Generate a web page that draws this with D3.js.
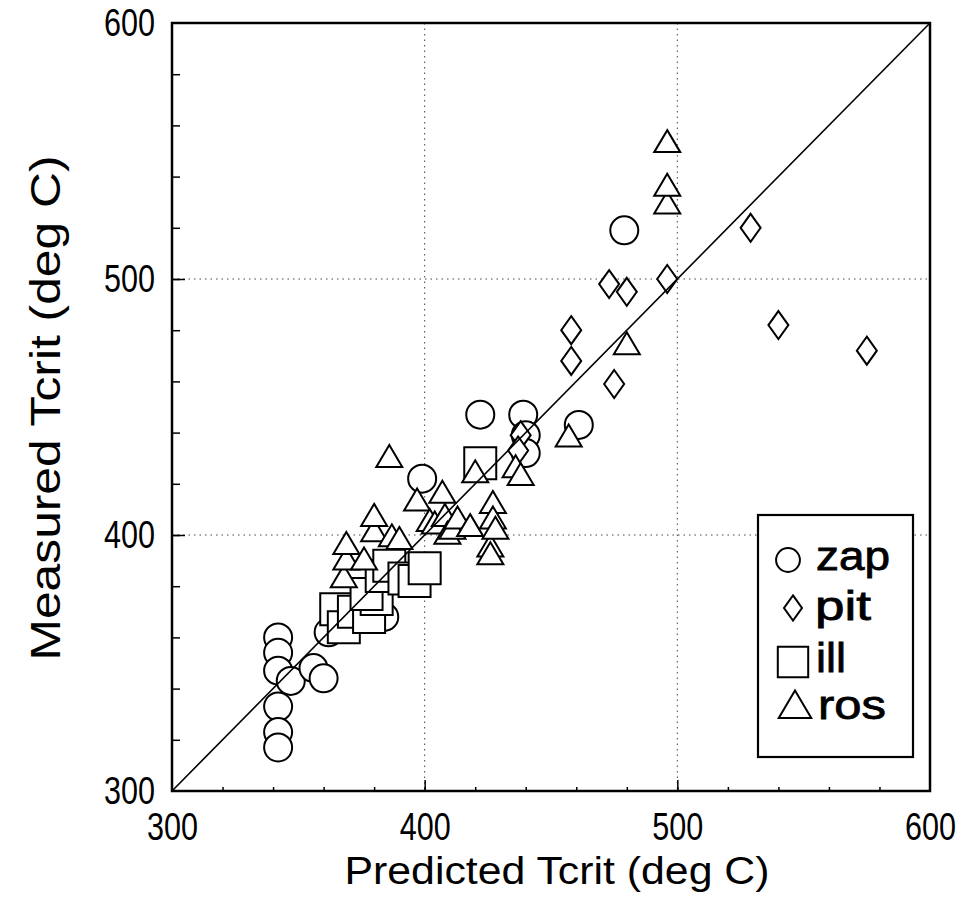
<!DOCTYPE html>
<html>
<head>
<meta charset="utf-8">
<script src="https://cdn.jsdelivr.net/npm/d3@7"></script>
<style>
  body { margin: 0; background: #fff; }
  svg { display: block; }
  text { font-family: "Liberation Sans", Arial, Helvetica, sans-serif; fill: #000; }
</style>
</head>
<body>
<svg id="chart" width="969" height="924"></svg>
<script>
// data: [predicted, measured] in deg C
var zap = [
  [342, 360], [342, 354], [342, 347], [342, 333], [342, 323], [342, 317],
  [347, 343], [356, 348], [360, 344], [362, 362], [384, 368],
  [399, 422], [422, 447], [439, 447], [440, 439], [440, 432],
  [461, 443], [479, 519]
];
var pit = [
  [438, 439], [437, 433], [458, 480], [458, 468], [475, 459],
  [473, 498], [480, 495], [496, 500], [529, 520], [540, 482], [575, 472]
];
var ill = [
  [365, 371], [368, 364], [372, 370], [378, 368], [381, 375], [377, 377],
  [383, 384], [386, 388], [392, 383], [396, 382], [400, 387], [422, 428]
];
var ros = [
  [368, 383], [369, 390], [369, 396], [376, 390], [380, 401], [380, 407],
  [386, 430], [387, 399], [390, 398], [397, 413], [402, 405], [404, 404],
  [407, 416], [408, 407], [409, 400], [411, 402], [413, 406], [418, 403],
  [420, 424], [426, 395], [426, 392], [427, 412], [427, 406], [428, 402],
  [436, 426], [438, 423], [457, 438], [480, 474],
  [496, 529], [496, 536], [496, 553]
];
var majorTicks = [300, 400, 500, 600];
var gridTicks = [400, 500];
var minorTicks = d3.range(320, 600, 20);
var legendNames = ['zap', 'pit', 'ill', 'ros'];

var svg = d3.select('#chart');
var x = d3.scaleLinear().domain([300, 600]).range([172, 930]);
var y = d3.scaleLinear().domain([300, 600]).range([791, 23]);

// dotted grid
var grid = svg.append('g').attr('stroke', '#444').attr('stroke-width', 1)
  .attr('stroke-dasharray', '1.5,4');
grid.selectAll('.gx').data(gridTicks).enter().append('line')
  .attr('x1', function(d){ return x(d); }).attr('x2', function(d){ return x(d); })
  .attr('y1', y(600)).attr('y2', y(300));
grid.selectAll('.gy').data(gridTicks).enter().append('line')
  .attr('y1', function(d){ return y(d); }).attr('y2', function(d){ return y(d); })
  .attr('x1', x(300)).attr('x2', x(600));

// minor + major inside ticks
svg.append('g').attr('transform', 'translate(0,' + y(300) + ')')
  .call(d3.axisBottom(x).tickValues(minorTicks).tickSize(-4).tickFormat(''));
svg.append('g').attr('transform', 'translate(' + x(300) + ',0)')
  .call(d3.axisLeft(y).tickValues(minorTicks).tickSize(-8).tickFormat(''));
svg.append('g').attr('transform', 'translate(' + x(300) + ',0)')
  .call(d3.axisLeft(y).tickValues(gridTicks).tickSize(-13).tickFormat(''));
svg.append('g').attr('transform', 'translate(0,' + y(300) + ')')
  .call(d3.axisBottom(x).tickValues(gridTicks).tickSize(-11).tickFormat(''));
svg.selectAll('.domain').remove();
svg.selectAll('.tick line').attr('stroke', '#000').attr('stroke-width', 1.5);

// tick labels
svg.append('g').attr('transform', 'translate(0,' + y(300) + ')')
  .call(d3.axisBottom(x).tickValues(majorTicks).tickSize(0).tickPadding(21));
svg.append('g').attr('transform', 'translate(' + x(300) + ',0)')
  .call(d3.axisLeft(y).tickValues(majorTicks).tickSize(0).tickPadding(17));
svg.selectAll('.domain').remove();
svg.selectAll('.tick text')
  .attr('fill', '#000').attr('font-size', 39)
  .attr('textLength', 51).attr('lengthAdjust', 'spacingAndGlyphs')
  .style('font-family', '"Liberation Sans", Arial, sans-serif');

// axis titles
svg.append('text')
  .attr('x', 557).attr('y', 884)
  .attr('text-anchor', 'middle').attr('font-size', 39)
  .attr('textLength', 425).attr('lengthAdjust', 'spacingAndGlyphs')
  .text('Predicted Tcrit (deg C)');
svg.append('text')
  .attr('transform', 'translate(60,408) rotate(-90)')
  .attr('text-anchor', 'middle').attr('font-size', 42)
  .attr('textLength', 505).attr('lengthAdjust', 'spacingAndGlyphs')
  .text('Measured Tcrit (deg C)');

// symbols
function circlePath(r) { return d3.symbol(d3.symbolCircle, Math.PI * r * r)(); }
var shapes = {
  zap: function(s) { return circlePath(14 * s); },
  pit: function(s) {
    var w = 10 * s, h = 14 * s;
    return 'M0,' + (-h) + 'L' + w + ',0L0,' + h + 'L' + (-w) + ',0Z';
  },
  ill: function(s) {
    var a = 16 * s;
    return 'M' + (-a) + ',' + (-a) + 'H' + a + 'V' + a + 'H' + (-a) + 'Z';
  },
  ros: function(s) {
    var w = 13 * s, h = 22 * s;
    return 'M0,' + (-h * 0.6) + 'L' + w + ',' + (h * 0.4) + 'L' + (-w) + ',' + (h * 0.4) + 'Z';
  }
};
var series = { zap: zap, pit: pit, ill: ill, ros: ros };

legendNames.forEach(function(name) {
  svg.append('g').selectAll('path').data(series[name]).enter().append('path')
    .attr('d', shapes[name](1))
    .attr('transform', function(d){ return 'translate(' + x(d[0]) + ',' + y(d[1]) + ')'; })
    .attr('fill', '#fff').attr('stroke', '#000').attr('stroke-width', 2);
});

// 1:1 line
svg.append('line')
  .attr('x1', x(300)).attr('y1', y(300)).attr('x2', x(600)).attr('y2', y(600))
  .attr('stroke', '#000').attr('stroke-width', 1.6);

// frame
svg.append('rect')
  .attr('x', x(300)).attr('y', y(600))
  .attr('width', x(600) - x(300)).attr('height', y(300) - y(600))
  .attr('fill', 'none').attr('stroke', '#000').attr('stroke-width', 2.5);

// legend
var legend = svg.append('g');
legend.append('rect')
  .attr('x', 758).attr('y', 515).attr('width', 155).attr('height', 242)
  .attr('fill', '#fff').attr('stroke', '#000').attr('stroke-width', 2.2);
var legendSym = { zap: [788, 560, 0.85], pit: [793, 608, 0.9], ill: [793, 662, 0.95], ros: [795, 707, 1.25] };
var legendText = { zap: [816, 570], pit: [815, 620], ill: [816, 672], ros: [818, 719] };
var legendLen = { zap: 74, pit: 56, ill: 30, ros: 68 };
legendNames.forEach(function(name) {
  var s = legendSym[name];
  legend.append('path')
    .attr('d', shapes[name](s[2]))
    .attr('transform', 'translate(' + s[0] + ',' + s[1] + ')')
    .attr('fill', '#fff').attr('stroke', '#000').attr('stroke-width', 2);
  legend.append('text')
    .attr('x', legendText[name][0]).attr('y', legendText[name][1])
    .attr('font-size', 41).attr('stroke', '#000').attr('stroke-width', 0.8)
    .attr('textLength', legendLen[name]).attr('lengthAdjust', 'spacingAndGlyphs')
    .text(name);
});
</script>
</body>
</html>
